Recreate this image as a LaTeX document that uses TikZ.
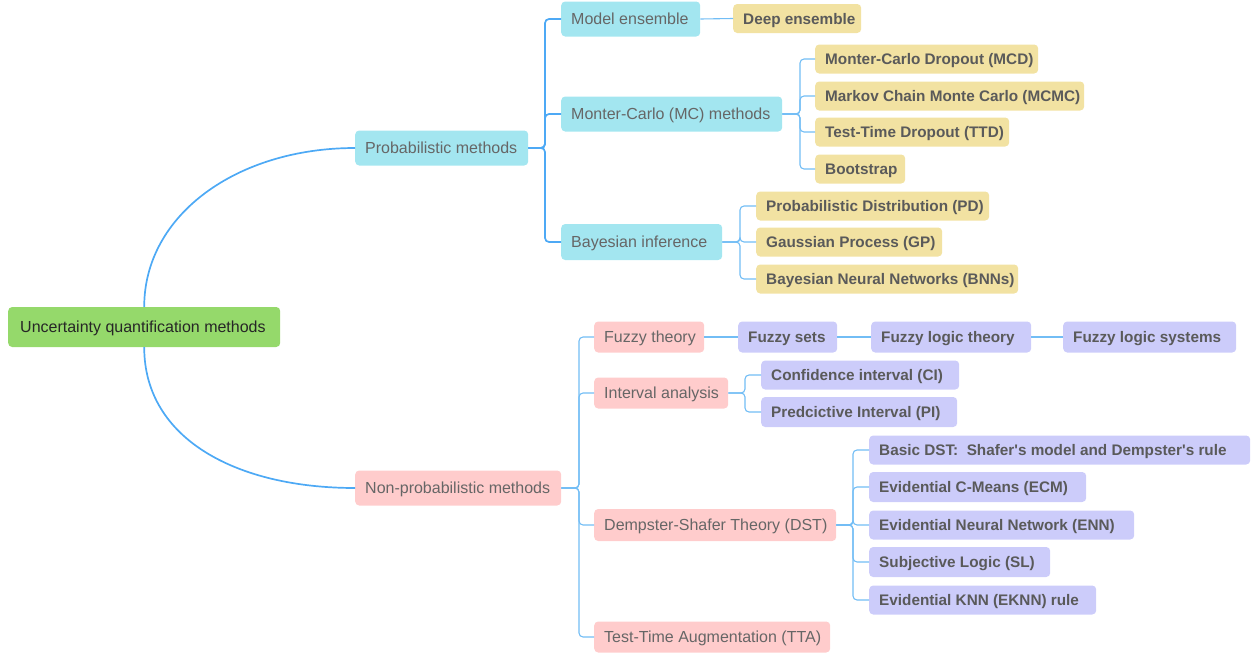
\documentclass[tikz,border=0pt]{standalone}
\usepackage{fontspec}
\setmainfont{Liberation Sans}[Ligatures=TeXOff]
\definecolor{cgreen}{HTML}{95D96B}
\definecolor{ccyan}{HTML}{A3E6F0}
\definecolor{cyel}{HTML}{F2E2A2}
\definecolor{cpink}{HTML}{FFCCCC}
\definecolor{clav}{HTML}{CCCCFA}
\definecolor{cline}{HTML}{4DA9F5}
\definecolor{cline2}{HTML}{72BDF5}
\definecolor{tgray}{HTML}{666666}
\definecolor{tbold}{HTML}{5A5A5A}
\newcommand\fixw[2]{\makebox[#1pt][l]{#2}}
\begin{document}
\begin{tikzpicture}[x=1pt,y=-1pt,
  base/.style={anchor=west,rounded corners=4pt,inner ysep=0pt,inner xsep=10pt,
    font=\fontsize{16}{19}\selectfont,text height=11.5pt,text depth=0pt},
  lone/.style={base,fill=ccyan,text=tgray,minimum height=35pt},
  ltwo/.style={base,fill=cpink,text=tgray,minimum height=31pt},
  ylf/.style={base,fill=cyel,text=tbold,minimum height=29pt,text height=11pt,font=\fontsize{15.3}{18}\selectfont\bfseries},
  plf/.style={base,fill=clav,text=tbold,minimum height=30pt,text height=11pt,font=\fontsize{15.3}{18}\selectfont\bfseries},
  conn/.style={draw=cline,line width=1.7pt,rounded corners=4pt},
  thin/.style={draw=cline2,line width=1.1pt,rounded corners=4pt}]
\useasboundingbox (0,0) rectangle (1257,653);

% root
\node[base,fill=cgreen,text=black!85,minimum height=40pt,inner xsep=12pt] (root) at (8,327) {\fixw{248}{Uncertainty quantification methods}};

% level 1
\node[lone] (prob) at (355,148) {\fixw{153}{Probabilistic methods}};
\node[ltwo,minimum height=35pt] (nonp) at (355,488) {\fixw{186}{Non-probabilistic methods}};

% probabilistic children
\node[lone] (model) at (561,19) {\fixw{119}{Model ensemble}};
\node[lone] (mc) at (561,114) {\fixw{201}{Monter-Carlo (MC) methods}};
\node[lone,minimum height=36pt] (bayes) at (561,242) {\fixw{141}{Bayesian inference}};

\node[ylf] (deep) at (733,18.5) {\fixw{108}{Deep ensemble}};
\node[ylf] (mcd) at (815,59) {\fixw{203}{Monter-Carlo Dropout (MCD)}};
\node[ylf] (mcmc) at (815,96) {\fixw{249}{Markov Chain Monte Carlo (MCMC)}};
\node[ylf] (ttd) at (815,132) {\fixw{174}{Test-Time Dropout (TTD)}};
\node[ylf] (boot) at (815,169) {\fixw{70}{Bootstrap}};
\node[ylf] (pd) at (756,206) {\fixw{213}{Probabilistic Distribution (PD)}};
\node[ylf] (gp) at (756,242) {\fixw{166}{Gaussian Process (GP)}};
\node[ylf] (bnn) at (756,279) {\fixw{242}{Bayesian Neural Networks (BNNs)}};

% non-probabilistic children
\node[ltwo] (fuzzy) at (594,337) {\fixw{90}{Fuzzy theory}};
\node[ltwo] (interval) at (594,393) {\fixw{114}{Interval analysis}};
\node[ltwo,minimum height=32pt] (dst) at (594,525) {\fixw{222}{Dempster-Shafer Theory (DST)}};
\node[ltwo] (tta) at (594,637) {\fixw{216}{Test-Time Augmentation (TTA)}};

\node[plf,minimum height=31pt] (fsets) at (738,337) {\fixw{79}{Fuzzy sets}};
\node[plf,minimum height=31pt] (flt) at (871,337) {\fixw{140}{Fuzzy logic theory}};
\node[plf,minimum height=31pt] (fls) at (1063,337) {\fixw{153}{Fuzzy logic systems}};

\node[plf,minimum height=29pt] (ci) at (761,375) {\fixw{178}{Confidence interval (CI)}};
\node[plf] (pi) at (761,412) {\fixw{176}{Predcictive Interval (PI)}};

\node[plf,minimum height=29pt] (basic) at (869,450) {\fixw{361}{Basic DST:\ \ Shafer's model and Dempster's rule}};
\node[plf] (ecm) at (869,487) {\fixw{197}{Evidential C-Means (ECM)}};
\node[plf,minimum height=29pt] (enn) at (869,525) {\fixw{245}{Evidential Neural Network (ENN)}};
\node[plf] (sl) at (869,562) {\fixw{161}{Subjective Logic (SL)}};
\node[plf,minimum height=29pt] (eknn) at (869,600) {\fixw{207}{Evidential KNN (EKNN) rule}};

% root curves
\draw[conn] (root.north) .. controls +(0,-92) and +(-118,0) .. (prob.west);
\draw[conn] (root.south) .. controls +(0,92) and +(-118,0) .. (nonp.west);

% probabilistic tree
\foreach \c in {model,mc,bayes} \draw[conn] (\c.west) -- ++(-16,0) |- (prob.east);
\draw[thin] (model.east) -- (deep.west);
\foreach \c in {mcd,mcmc,ttd,boot} \draw[thin] (\c.west) -- ++(-15,0) |- (mc.east);
\foreach \c in {pd,gp,bnn} \draw[thin] (\c.west) -- ++(-16,0) |- (bayes.east);

% non-probabilistic tree
\foreach \c in {fuzzy,interval,dst,tta} \draw[thin] (\c.west) -- ++(-15,0) |- (nonp.east);
\draw[thin] (fuzzy.east) -- (fsets.west);
\draw[thin] (fsets.east) -- (flt.west);
\draw[thin] (flt.east) -- (fls.west);
\foreach \c in {ci,pi} \draw[thin] (\c.west) -- ++(-16,0) |- (interval.east);
\foreach \c in {basic,ecm,enn,sl,eknn} \draw[thin] (\c.west) -- ++(-16,0) |- (dst.east);
\end{tikzpicture}
\end{document}
